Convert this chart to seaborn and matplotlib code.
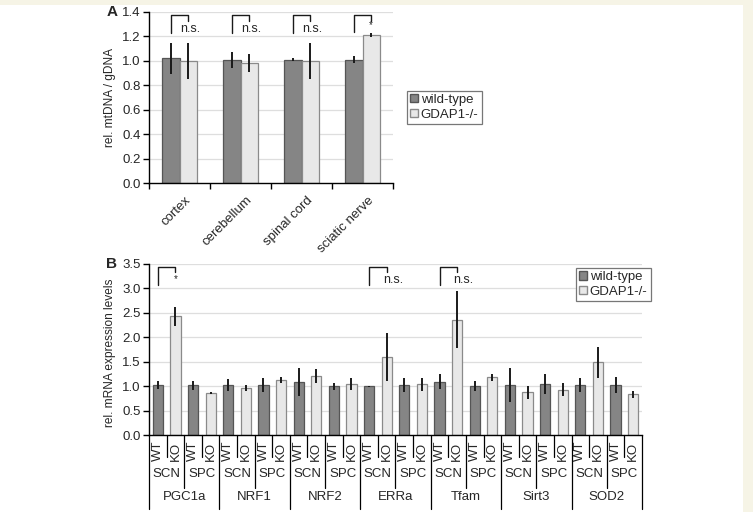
import matplotlib
matplotlib.use("Agg")
import matplotlib.pyplot as plt
import matplotlib.transforms as mtransforms
from matplotlib.patches import Patch, Rectangle
import numpy as np
import pandas as pd
import seaborn as sns

# ---------------- data ----------------
tissues_a = ["cortex", "cerebellum", "spinal cord", "sciatic nerve"]
a_wt = [1.02, 1.01, 1.01, 1.01]
a_wt_err = [0.13, 0.065, 0.015, 0.03]
a_ko = [1.00, 0.98, 1.00, 1.21]
a_ko_err = [0.15, 0.075, 0.15, 0.015]
a_sig = ["n.s.", "n.s.", "n.s.", "*"]

genes = ["PGC1a", "NRF1", "NRF2", "ERRa", "Tfam", "Sirt3", "SOD2"]
tissues_b = ["SCN", "SPC"]
genos_b = ["WT", "KO"]
b_vals = [1.02, 2.43, 1.02, 0.85,
          1.02, 0.97, 1.03, 1.12,
          1.085, 1.21, 1.00, 1.04,
          1.00, 1.59, 1.02, 1.04,
          1.095, 2.36, 1.01, 1.18,
          1.02, 0.87, 1.04, 0.93,
          1.02, 1.49, 1.03, 0.83]
b_errs = [0.08, 0.20, 0.09, 0.02,
          0.12, 0.06, 0.14, 0.06,
          0.28, 0.14, 0.07, 0.12,
          0.01, 0.49, 0.15, 0.13,
          0.155, 0.58, 0.10, 0.065,
          0.35, 0.135, 0.20, 0.125,
          0.14, 0.32, 0.165, 0.07]
b_sig = {"PGC1a": "*", "ERRa": "n.s.", "Tfam": "n.s."}

legend_labels = ["wild-type", "GDAP1-/-"]

# ---------------- style ----------------
sns.set_theme(style="white")
plt.rcParams["font.family"] = ["Liberation Sans", "DejaVu Sans"]
FS = 9.5
FS_Y = 8.6
WT_C, KO_C = "#858585", "#e8e8e8"
WT_E, KO_E = "#555555", "#8a8a8a"
GRID_C = "#dedede"

fig = plt.figure(figsize=(7.53, 5.12), dpi=100, facecolor="#f6f4e6")
fig.patches.append(Rectangle((0, 0), 743 / 753, 1 - 5 / 512, transform=fig.transFigure,
                             facecolor="white", edgecolor="none", zorder=-10))

W, H = 753, 512
def box(l, t, r, b):
    return [l / W, 1 - b / H, (r - l) / W, (b - t) / H]

axA = fig.add_axes(box(149, 12, 393, 183))
axB = fig.add_axes(box(149, 264, 642, 435))
for ax in (axA, axB):
    ax.set_facecolor("none")

def style_axis(ax, ymax, step):
    for s in ["top", "right"]:
        ax.spines[s].set_visible(False)
    for s in ["left", "bottom"]:
        ax.spines[s].set_color("black")
        ax.spines[s].set_linewidth(1.0)
    ax.set_ylim(0, ymax)
    yt = np.round(np.arange(0, ymax + 1e-9, step), 2)
    ax.set_yticks(yt)
    ax.set_yticklabels([f"{v:.1f}" for v in yt], fontsize=FS)
    ax.tick_params(axis="y", left=True, length=4, width=1, pad=2, color="black")
    for v in yt[1:]:
        ax.axhline(v, color=GRID_C, lw=0.9, zorder=0)

# ---------------- panel A ----------------
dfA = pd.DataFrame({
    "tissue": tissues_a * 2,
    "value": a_wt + a_ko,
    "genotype": [legend_labels[0]] * 4 + [legend_labels[1]] * 4,
})
sns.barplot(data=dfA, x="tissue", y="value", hue="genotype", order=tissues_a,
            hue_order=legend_labels, palette=[WT_C, KO_C], width=0.56,
            errorbar=None, legend=False, ax=axA, zorder=2)
errsA = [a_wt_err, a_ko_err]
centersA = []
for k, (cont, ec) in enumerate(zip(axA.containers, [WT_E, KO_E])):
    xs = []
    for bar, e in zip(cont, errsA[k]):
        bar.set_edgecolor(ec)
        bar.set_linewidth(0.9)
        cx = bar.get_x() + bar.get_width() / 2
        xs.append(cx)
        axA.errorbar(cx, bar.get_height(), yerr=e, fmt="none", ecolor="#1a1a1a",
                     elinewidth=1.4, capsize=0, zorder=3)
    centersA.append(xs)

style_axis(axA, 1.4, 0.2)
axA.set_xlim(-0.5, 3.5)
axA.set_xlabel("")
axA.set_ylabel("rel. mtDNA / gDNA", fontsize=FS_Y)
axA.yaxis.set_label_coords(-0.135, 0.5)
axA.set_xticks(range(len(tissues_a)))
axA.set_xticklabels(tissues_a, rotation=45, ha="right", va="top",
                    rotation_mode="anchor", fontsize=FS)
axA.tick_params(axis="x", bottom=False, pad=2)
for lbl in axA.get_xticklabels():
    lbl.set_transform(lbl.get_transform() + mtransforms.ScaledTranslation(0.05, 0, fig.dpi_scale_trans))
axA.set_xticks([-0.5, 0.5, 1.5, 2.5, 3.5], minor=True)
axA.tick_params(axis="x", which="minor", bottom=True, length=4, width=1, color="black")

for i, s in enumerate(a_sig):
    xl, xr = centersA[0][i], centersA[1][i]
    low = 1.235 if s == "*" else 1.227
    axA.plot([xl, xl, xr, xr], [low, 1.373, 1.373, 1.33], color="#1a1a1a",
             lw=1.0, clip_on=False, zorder=4)
    if s == "*":
        axA.text(xr, 1.29, s, ha="center", va="center", fontsize=7)
    else:
        axA.text(xr + 0.03, 1.26, s, ha="center", va="center", fontsize=FS - 0.5)

legA = axA.legend(handles=[Patch(facecolor=WT_C, edgecolor=WT_E),
                           Patch(facecolor=KO_C, edgecolor=KO_E)],
                  labels=legend_labels, loc="upper left",
                  bbox_to_anchor=(1.057, 0.54), borderaxespad=0, fontsize=FS,
                  handlelength=0.6, handleheight=0.6, handletextpad=0.2,
                  borderpad=0.25, labelspacing=0.2, fancybox=False, framealpha=1)
legA.get_frame().set_edgecolor("#777777")
legA.get_frame().set_linewidth(0.9)

axA.text(-0.13, 1.0, "A", transform=axA.transAxes, fontsize=11, fontweight="bold",
         ha="right", va="center")

# ---------------- panel B ----------------
slots = [f"{g}|{t}|{k}" for g in genes for t in tissues_b for k in genos_b]
dfB = pd.DataFrame({
    "slot": slots,
    "value": b_vals,
    "genotype": [legend_labels[0] if s.endswith("WT") else legend_labels[1] for s in slots],
})
sns.barplot(data=dfB, x="slot", y="value", hue="genotype", order=slots,
            hue_order=legend_labels, palette=[WT_C, KO_C], width=0.58, dodge=False,
            errorbar=None, legend=False, ax=axB, zorder=2)
centersB = {}
for cont, ec in zip(axB.containers, [WT_E, KO_E]):
    for bar in cont:
        if np.isnan(bar.get_height()) or bar.get_height() == 0:
            continue
        bar.set_edgecolor(ec)
        bar.set_linewidth(0.9)
        cx = bar.get_x() + bar.get_width() / 2
        idx = int(round(cx))
        centersB[idx] = cx
        axB.errorbar(cx, bar.get_height(), yerr=b_errs[idx], fmt="none",
                     ecolor="#1a1a1a", elinewidth=1.4, capsize=0, zorder=3)

style_axis(axB, 3.5, 0.5)
axB.set_xlim(-0.5, len(slots) - 0.5)
axB.set_xlabel("")
axB.set_ylabel("rel. mRNA expression levels", fontsize=FS_Y)
axB.yaxis.set_label_coords(-0.067, 0.48)
axB.set_xticks([])
axB.tick_params(axis="x", bottom=False, labelbottom=False)

tr = mtransforms.blended_transform_factory(axB.transData, axB.transAxes)
for i, s in enumerate(slots):
    g, t, k = s.split("|")
    axB.text(i, -0.095, k, rotation=90, ha="center", va="center", fontsize=FS,
             transform=tr, clip_on=False)
for gi, g in enumerate(genes):
    base = gi * 4
    for ti, t in enumerate(tissues_b):
        axB.text(base + ti * 2 + 0.5, -0.23, t, ha="center", va="center",
                 fontsize=FS, transform=tr, clip_on=False)
    axB.text(base + 1.5, -0.365, g, ha="center", va="center", fontsize=FS,
             transform=tr, clip_on=False)
    # separators
    for j in (0, 2):
        x = base + j + 0.5
        axB.plot([x, x], [0, -0.13], color="black", lw=0.9, transform=tr, clip_on=False)
    x = base + 1.5
    axB.plot([x, x], [0, -0.31], color="black", lw=0.9, transform=tr, clip_on=False)
for gi in range(len(genes) + 1):
    x = gi * 4 - 0.5
    axB.plot([x, x], [0, -0.43], color="black", lw=0.9, transform=tr, clip_on=False)

for gi, g in enumerate(genes):
    if g in b_sig:
        s = b_sig[g]
        xl, xr = centersB[gi * 4], centersB[gi * 4 + 1]
        axB.plot([xl, xl, xr, xr], [3.08, 3.43, 3.43, 3.34], color="#1a1a1a",
                 lw=1.0, clip_on=False, zorder=4)
        if s == "*":
            axB.text(xr, 3.2, s, ha="center", va="center", fontsize=7)
        else:
            axB.text(xr + 0.35, 3.17, s, ha="center", va="center", fontsize=FS - 0.5)

legB = axB.legend(handles=[Patch(facecolor=WT_C, edgecolor=WT_E),
                           Patch(facecolor=KO_C, edgecolor=KO_E)],
                  labels=legend_labels, loc="upper left",
                  bbox_to_anchor=(0.866, 0.977), borderaxespad=0, fontsize=FS,
                  handlelength=0.6, handleheight=0.6, handletextpad=0.2,
                  borderpad=0.25, labelspacing=0.2, fancybox=False, framealpha=1)
legB.get_frame().set_edgecolor("#777777")
legB.get_frame().set_linewidth(0.9)

axB.text(-0.065, 1.0, "B", transform=axB.transAxes, fontsize=11, fontweight="bold",
         ha="right", va="center")

fig.savefig("out.png", dpi=100, facecolor=fig.get_facecolor())
